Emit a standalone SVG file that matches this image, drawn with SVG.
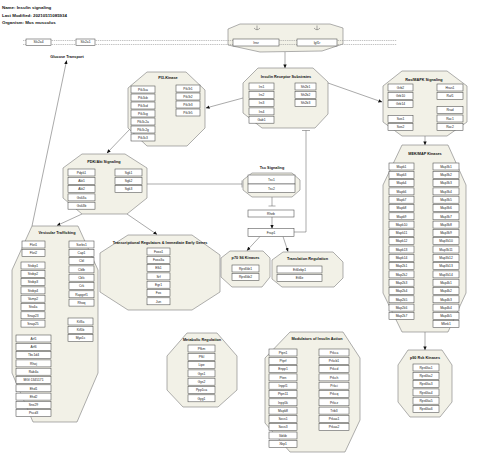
<svg xmlns="http://www.w3.org/2000/svg" width="480" height="465" viewBox="0 0 480 465">
<style>
.bg{fill:#fff}
.grp{fill:#f2f1e7;stroke:#7a7a7a;stroke-width:0.6}
.box{fill:#fff;stroke:#4a4a4a;stroke-width:0.55}
.t{font-family:"Liberation Sans",Arial,sans-serif;font-size:3.3px;text-anchor:middle;fill:#1a1a1a}
.h{font-family:"Liberation Sans",Arial,sans-serif;font-size:3.8px;font-weight:bold;text-anchor:middle;fill:#111}
.hd{font-family:"Liberation Sans",Arial,sans-serif;font-size:4.4px;font-weight:bold;fill:#111}
.e{stroke:#555;stroke-width:0.5;fill:none}
.mem{stroke:#9a9a9a;stroke-width:0.6;stroke-dasharray:1.4 0.8;fill:none}
</style>
<defs>
<marker id="arr" markerUnits="userSpaceOnUse" markerWidth="4" markerHeight="4" refX="3.6" refY="2" orient="auto"><path d="M0,0.3 L3.8,2 L0,3.7 z" fill="#111"/></marker>
</defs>
<rect class="bg" x="0" y="0" width="480" height="465"/>
<text class="hd" x="2" y="9">Name: Insulin signaling</text>
<text class="hd" x="2" y="16.5">Last Modified: 20210511085934</text>
<text class="hd" x="2" y="24">Organism: Mus musculus</text>

<g id="receptors">
<polygon class="grp" points="240,24 330,24 343,28 343,44 322,51 260,52 228,45 228,29"/>
</g>
<g id="membrane">
<line class="mem" x1="23" y1="40.5" x2="397" y2="40.5"/>
<line class="mem" x1="23" y1="44.5" x2="397" y2="44.5"/>
</g>
<g id="Slc2a4"><rect class="box" x="26" y="39" width="25" height="6.5"/><text class="t" x="38.5" y="43.4">Slc2a4</text></g>
<g id="Slc2a1"><rect class="box" x="76" y="39" width="19" height="6.5"/><text class="t" x="85.5" y="43.4">Slc2a1</text></g>
<g id="Insr"><rect class="box" x="233" y="39" width="46" height="7"/><text class="t" x="256" y="43.7">Insr</text>
<path class="e" d="M254,28 Q257,31.5 260,28 M257,25.5 V29.6"/></g>
<g id="Igf1r"><rect class="box" x="297" y="39" width="40" height="7"/><text class="t" x="317" y="43.7">Igf1r</text>
<path class="e" d="M314,28 Q317,31.5 320,28 M317,25.5 V29.6"/></g>
<g id="glucose-transport"><text class="h" x="67" y="57.5">Glucose Transport</text></g>

<g id="connectors">
<line class="e" x1="32" y1="226" x2="66.6" y2="60.5" marker-end="url(#arr)"/>
<line class="e" x1="285" y1="52" x2="285" y2="68" marker-end="url(#arr)"/>
<line class="e" x1="243" y1="98" x2="206" y2="108" marker-end="url(#arr)"/>
<line class="e" x1="328" y1="83" x2="382" y2="102" marker-end="url(#arr)"/>
<line class="e" x1="425" y1="136" x2="425" y2="145" marker-end="url(#arr)"/>
<line class="e" x1="425" y1="332" x2="425" y2="350" marker-end="url(#arr)"/>
<line class="e" x1="130" y1="129" x2="107" y2="153" marker-end="url(#arr)"/>
<line class="e" x1="82" y1="214" x2="57" y2="225.5" marker-end="url(#arr)"/>
<line class="e" x1="127" y1="214" x2="157" y2="234.5" marker-end="url(#arr)"/>
<line class="e" x1="147" y1="184" x2="242" y2="184"/>
<line class="e" x1="242" y1="180.5" x2="242" y2="187.5"/>
<line class="e" x1="272" y1="197" x2="272" y2="206"/>
<line class="e" x1="268.5" y1="206" x2="275.5" y2="206"/>
<line class="e" x1="272" y1="217" x2="272" y2="228.5" marker-end="url(#arr)"/>
<polyline class="e" points="294,232 306,232 306,130.5"/>
<line class="e" x1="302" y1="130.5" x2="310" y2="130.5"/>
<line class="e" x1="260" y1="236.5" x2="247" y2="250.5" marker-end="url(#arr)"/>
<line class="e" x1="283" y1="236.5" x2="288" y2="251.5" marker-end="url(#arr)"/>
</g>

<g id="pi3k">
<polygon class="grp" points="147,72 186,72 205,90 205,128 187,146 147,146 128,128 128,88"/>
<text class="h" x="168" y="79">PI3-Kinase</text>
<rect class="box" x="131" y="86" width="24" height="7"/><text class="t" x="143" y="90.7">Pik3ca</text>
<rect class="box" x="131" y="94" width="24" height="7"/><text class="t" x="143" y="98.7">Pik3cb</text>
<rect class="box" x="131" y="102" width="24" height="7"/><text class="t" x="143" y="106.7">Pik3cd</text>
<rect class="box" x="131" y="110" width="24" height="7"/><text class="t" x="143" y="114.7">Pik3cg</text>
<rect class="box" x="131" y="118" width="24" height="7"/><text class="t" x="143" y="122.7">Pik3c2a</text>
<rect class="box" x="131" y="126" width="24" height="7"/><text class="t" x="143" y="130.7">Pik3c2g</text>
<rect class="box" x="131" y="134" width="24" height="7"/><text class="t" x="143" y="138.7">Pik3c3</text>
<rect class="box" x="176" y="85" width="24" height="7"/><text class="t" x="188" y="89.7">Pik3r1</text>
<rect class="box" x="176" y="93" width="24" height="7"/><text class="t" x="188" y="97.7">Pik3r2</text>
<rect class="box" x="176" y="101" width="24" height="7"/><text class="t" x="188" y="105.7">Pik3r3</text>
<rect class="box" x="176" y="109" width="24" height="7"/><text class="t" x="188" y="113.7">Pik3r5</text>
</g>

<g id="irs">
<polygon class="grp" points="258,68 313,68 328,82 328,114 315,128 262,128 243,113 243,83"/>
<text class="h" x="286" y="78">Insulin Receptor Substrates</text>
<rect class="box" x="249" y="83" width="25" height="7"/><text class="t" x="261.5" y="87.7">Irs1</text>
<rect class="box" x="249" y="91.3" width="25" height="7"/><text class="t" x="261.5" y="96">Irs2</text>
<rect class="box" x="249" y="99.6" width="25" height="7"/><text class="t" x="261.5" y="104.3">Irs3</text>
<rect class="box" x="249" y="107.9" width="25" height="7"/><text class="t" x="261.5" y="112.6">Irs4</text>
<rect class="box" x="249" y="116.2" width="25" height="7"/><text class="t" x="261.5" y="120.9">Gab1</text>
<rect class="box" x="295" y="83" width="21" height="7"/><text class="t" x="305.5" y="87.7">Sh2b1</text>
<rect class="box" x="295" y="91.3" width="21" height="7"/><text class="t" x="305.5" y="96">Sh2b2</text>
<rect class="box" x="295" y="99.6" width="21" height="7"/><text class="t" x="305.5" y="104.3">Sh2b3</text>
</g>

<g id="ras">
<polygon class="grp" points="402,71 447,71 467,86 467,122 447,136 402,136 383,122 383,86"/>
<text class="h" x="424" y="81">Ras/MAPK Signaling</text>
<rect class="box" x="388" y="84" width="25" height="7"/><text class="t" x="400.5" y="88.7">Grb2</text>
<rect class="box" x="388" y="92.3" width="25" height="7"/><text class="t" x="400.5" y="97">Grb10</text>
<rect class="box" x="388" y="100.6" width="25" height="7"/><text class="t" x="400.5" y="105.3">Grb14</text>
<rect class="box" x="388" y="115.3" width="25" height="7"/><text class="t" x="400.5" y="120">Sos1</text>
<rect class="box" x="388" y="123.6" width="25" height="7"/><text class="t" x="400.5" y="128.3">Sos2</text>
<rect class="box" x="437" y="84" width="26" height="7"/><text class="t" x="450" y="88.7">Hras1</text>
<rect class="box" x="437" y="92.3" width="26" height="7"/><text class="t" x="450" y="97">Raf1</text>
<rect class="box" x="437" y="106.6" width="26" height="7"/><text class="t" x="450" y="111.3">Rrad</text>
<rect class="box" x="437" y="115" width="26" height="7"/><text class="t" x="450" y="119.7">Rac1</text>
<rect class="box" x="437" y="123.3" width="26" height="7"/><text class="t" x="450" y="128">Rac2</text>
</g>

<g id="mek">
<polygon class="grp" points="402,145 448,145 466,185 466,293 448,332 402,332 383,293 383,185"/>
<text class="h" x="425" y="154.5">MEK/MAP Kinases</text>
<rect class="box" x="389" y="163" width="25" height="7"/><text class="t" x="401.5" y="167.7">Mapk1</text>
<rect class="box" x="389" y="171.3" width="25" height="7"/><text class="t" x="401.5" y="176">Mapk3</text>
<rect class="box" x="389" y="179.6" width="25" height="7"/><text class="t" x="401.5" y="184.3">Mapk4</text>
<rect class="box" x="389" y="187.9" width="25" height="7"/><text class="t" x="401.5" y="192.6">Mapk6</text>
<rect class="box" x="389" y="196.2" width="25" height="7"/><text class="t" x="401.5" y="200.9">Mapk7</text>
<rect class="box" x="389" y="204.5" width="25" height="7"/><text class="t" x="401.5" y="209.2">Mapk8</text>
<rect class="box" x="389" y="212.8" width="25" height="7"/><text class="t" x="401.5" y="217.5">Mapk9</text>
<rect class="box" x="389" y="221.1" width="25" height="7"/><text class="t" x="401.5" y="225.8">Mapk10</text>
<rect class="box" x="389" y="229.4" width="25" height="7"/><text class="t" x="401.5" y="234.1">Mapk11</text>
<rect class="box" x="389" y="237.7" width="25" height="7"/><text class="t" x="401.5" y="242.4">Mapk12</text>
<rect class="box" x="389" y="246" width="25" height="7"/><text class="t" x="401.5" y="250.7">Mapk13</text>
<rect class="box" x="389" y="254.3" width="25" height="7"/><text class="t" x="401.5" y="259">Mapk14</text>
<rect class="box" x="389" y="262.6" width="25" height="7"/><text class="t" x="401.5" y="267.3">Map2k1</text>
<rect class="box" x="389" y="270.9" width="25" height="7"/><text class="t" x="401.5" y="275.6">Map2k2</text>
<rect class="box" x="389" y="279.2" width="25" height="7"/><text class="t" x="401.5" y="283.9">Map2k3</text>
<rect class="box" x="389" y="287.5" width="25" height="7"/><text class="t" x="401.5" y="292.2">Map2k4</text>
<rect class="box" x="389" y="295.8" width="25" height="7"/><text class="t" x="401.5" y="300.5">Map2k5</text>
<rect class="box" x="389" y="304.1" width="25" height="7"/><text class="t" x="401.5" y="308.8">Map2k6</text>
<rect class="box" x="389" y="312.4" width="25" height="7"/><text class="t" x="401.5" y="317.1">Map2k7</text>
<rect class="box" x="433" y="163" width="26" height="7"/><text class="t" x="446" y="167.7">Map3k1</text>
<rect class="box" x="433" y="171.3" width="26" height="7"/><text class="t" x="446" y="176">Map3k2</text>
<rect class="box" x="433" y="179.6" width="26" height="7"/><text class="t" x="446" y="184.3">Map3k3</text>
<rect class="box" x="433" y="187.9" width="26" height="7"/><text class="t" x="446" y="192.6">Map3k4</text>
<rect class="box" x="433" y="196.2" width="26" height="7"/><text class="t" x="446" y="200.9">Map3k5</text>
<rect class="box" x="433" y="204.5" width="26" height="7"/><text class="t" x="446" y="209.2">Map3k6</text>
<rect class="box" x="433" y="212.8" width="26" height="7"/><text class="t" x="446" y="217.5">Map3k7</text>
<rect class="box" x="433" y="221.1" width="26" height="7"/><text class="t" x="446" y="225.8">Map3k8</text>
<rect class="box" x="433" y="229.4" width="26" height="7"/><text class="t" x="446" y="234.1">Map3k9</text>
<rect class="box" x="433" y="237.7" width="26" height="7"/><text class="t" x="446" y="242.4">Map3k10</text>
<rect class="box" x="433" y="246" width="26" height="7"/><text class="t" x="446" y="250.7">Map3k11</text>
<rect class="box" x="433" y="254.3" width="26" height="7"/><text class="t" x="446" y="259">Map3k12</text>
<rect class="box" x="433" y="262.6" width="26" height="7"/><text class="t" x="446" y="267.3">Map3k13</text>
<rect class="box" x="433" y="270.9" width="26" height="7"/><text class="t" x="446" y="275.6">Map3k14</text>
<rect class="box" x="433" y="279.2" width="26" height="7"/><text class="t" x="446" y="283.9">Map4k1</text>
<rect class="box" x="433" y="287.5" width="26" height="7"/><text class="t" x="446" y="292.2">Map4k2</text>
<rect class="box" x="433" y="295.8" width="26" height="7"/><text class="t" x="446" y="300.5">Map4k3</text>
<rect class="box" x="433" y="304.1" width="26" height="7"/><text class="t" x="446" y="308.8">Map4k4</text>
<rect class="box" x="433" y="312.4" width="26" height="7"/><text class="t" x="446" y="317.1">Map4k5</text>
<rect class="box" x="433" y="320.7" width="26" height="7"/><text class="t" x="446" y="325.4">Mknk1</text>
</g>

<g id="p90">
<polygon class="grp" points="408,350 442,350 452,365 452,402 440,417 410,417 398,402 398,365"/>
<text class="h" x="425" y="358.5">p90 Rsk Kinases</text>
<rect class="box" x="413" y="364" width="26" height="7"/><text class="t" x="426" y="368.7">Rps6ka1</text>
<rect class="box" x="413" y="372.3" width="26" height="7"/><text class="t" x="426" y="377">Rps6ka2</text>
<rect class="box" x="413" y="380.6" width="26" height="7"/><text class="t" x="426" y="385.3">Rps6ka3</text>
<rect class="box" x="413" y="388.9" width="26" height="7"/><text class="t" x="426" y="393.6">Rps6ka4</text>
<rect class="box" x="413" y="397.2" width="26" height="7"/><text class="t" x="426" y="401.9">Rps6ka5</text>
<rect class="box" x="413" y="405.5" width="26" height="7"/><text class="t" x="426" y="410.2">Rps6ka6</text>
</g>

<g id="pdk">
<polygon class="grp" points="82,154 125,154 147,168 147,198 127,214 82,214 63,198 63,168"/>
<text class="h" x="104" y="163">PDK/Akt Signaling</text>
<rect class="box" x="68" y="169" width="27" height="7"/><text class="t" x="81.5" y="173.7">Pdpk1</text>
<rect class="box" x="68" y="177.3" width="27" height="7"/><text class="t" x="81.5" y="182">Akt1</text>
<rect class="box" x="68" y="185.6" width="27" height="7"/><text class="t" x="81.5" y="190.3">Akt2</text>
<rect class="box" x="68" y="193.9" width="27" height="7"/><text class="t" x="81.5" y="198.6">Gsk3a</text>
<rect class="box" x="68" y="202.2" width="27" height="7"/><text class="t" x="81.5" y="206.9">Gsk3b</text>
<rect class="box" x="115" y="169" width="27" height="7"/><text class="t" x="128.5" y="173.7">Sgk1</text>
<rect class="box" x="115" y="177.3" width="27" height="7"/><text class="t" x="128.5" y="182">Sgk2</text>
<rect class="box" x="115" y="185.6" width="27" height="7"/><text class="t" x="128.5" y="190.3">Sgk3</text>
</g>

<g id="tsc">
<text class="h" x="272" y="168.5">Tsc Signaling</text>
<polygon class="grp" points="252,173 292,173 300,180 300,190 292,197 252,197 243,190 243,180"/>
<rect class="box" x="248" y="175" width="47" height="9"/><text class="t" x="271.5" y="180.7">Tsc1</text>
<rect class="box" x="248" y="184" width="47" height="8.5"/><text class="t" x="271.5" y="189.5">Tsc2</text>
</g>
<g id="Rheb"><rect class="box" x="248" y="210" width="46" height="7"/><text class="t" x="271" y="214.7">Rheb</text></g>
<g id="Frap1"><rect class="box" x="248" y="228.5" width="46" height="8"/><text class="t" x="271" y="233.7">Frap1</text></g>

<g id="p70">
<polygon class="grp" points="230,251 263,251 270,258 270,277 262,287 232,287 221,277 221,258"/>
<text class="h" x="245.5" y="259">p70 S6 Kinases</text>
<rect class="box" x="232" y="265" width="27" height="7"/><text class="t" x="245.5" y="269.7">Rps6kb1</text>
<rect class="box" x="232" y="273.3" width="27" height="7"/><text class="t" x="245.5" y="278">Rps6kb2</text>
</g>

<g id="translation">
<polygon class="grp" points="283,252 333,252 343,262 343,278 334,287 282,287 272,279 272,260"/>
<text class="h" x="307.5" y="260">Translation Regulation</text>
<rect class="box" x="277" y="266" width="45" height="7"/><text class="t" x="299.5" y="270.7">Eif4ebp1</text>
<rect class="box" x="277" y="274.3" width="45" height="7"/><text class="t" x="299.5" y="279">Eif4e</text>
</g>

<g id="transcription">
<polygon class="grp" points="128,235 192,235 220,255 220,292 192,310 128,310 100,292 100,253"/>
<text class="h" x="160" y="243.5">Transcriptional Regulators &amp; Immediate Early Genes</text>
<rect class="box" x="147" y="248" width="23" height="7"/><text class="t" x="158.5" y="252.7">Foxo1</text>
<rect class="box" x="147" y="256.3" width="23" height="7"/><text class="t" x="158.5" y="261">Foxo3a</text>
<rect class="box" x="147" y="264.6" width="23" height="7"/><text class="t" x="158.5" y="269.3">Elk1</text>
<rect class="box" x="147" y="272.9" width="23" height="7"/><text class="t" x="158.5" y="277.6">Srf</text>
<rect class="box" x="147" y="281.2" width="23" height="7"/><text class="t" x="158.5" y="285.9">Egr1</text>
<rect class="box" x="147" y="289.5" width="23" height="7"/><text class="t" x="158.5" y="294.2">Fos</text>
<rect class="box" x="147" y="297.8" width="23" height="7"/><text class="t" x="158.5" y="302.5">Jun</text>
</g>

<g id="vesicular">
<polygon class="grp" points="32,226 78,226 98,270 98,373 77,422 33,422 12,373 12,270"/>
<text class="h" x="57" y="234">Vesicular Trafficking</text>
<rect class="box" x="22" y="241" width="23" height="7"/><text class="t" x="33.5" y="245.7">Flot1</text>
<rect class="box" x="22" y="249.3" width="23" height="7"/><text class="t" x="33.5" y="254">Flot2</text>
<rect class="box" x="21" y="262" width="24" height="7"/><text class="t" x="33" y="266.7">Stxbp1</text>
<rect class="box" x="21" y="270.3" width="24" height="7"/><text class="t" x="33" y="275">Stxbp2</text>
<rect class="box" x="21" y="278.6" width="24" height="7"/><text class="t" x="33" y="283.3">Stxbp3</text>
<rect class="box" x="21" y="286.9" width="24" height="7"/><text class="t" x="33" y="291.6">Stxbp4</text>
<rect class="box" x="21" y="295.2" width="24" height="7"/><text class="t" x="33" y="299.9">Vamp2</text>
<rect class="box" x="21" y="303.5" width="24" height="7"/><text class="t" x="33" y="308.2">Stx4a</text>
<rect class="box" x="21" y="311.8" width="24" height="7"/><text class="t" x="33" y="316.5">Snap23</text>
<rect class="box" x="21" y="320.1" width="24" height="7"/><text class="t" x="33" y="324.8">Snap25</text>
<rect class="box" x="69" y="241" width="25" height="7"/><text class="t" x="81.5" y="245.7">Sorbs1</text>
<rect class="box" x="69" y="249.3" width="25" height="7"/><text class="t" x="81.5" y="254">Cap1</text>
<rect class="box" x="69" y="257.6" width="25" height="7"/><text class="t" x="81.5" y="262.3">Cbl</text>
<rect class="box" x="69" y="265.9" width="25" height="7"/><text class="t" x="81.5" y="270.6">Cblb</text>
<rect class="box" x="69" y="274.2" width="25" height="7"/><text class="t" x="81.5" y="278.9">Cblc</text>
<rect class="box" x="69" y="282.5" width="25" height="7"/><text class="t" x="81.5" y="287.2">Crk</text>
<rect class="box" x="69" y="290.8" width="25" height="7"/><text class="t" x="81.5" y="295.5">Rapgef1</text>
<rect class="box" x="69" y="299.1" width="25" height="7"/><text class="t" x="81.5" y="303.8">Rhoq</text>
<rect class="box" x="68" y="318" width="25" height="7"/><text class="t" x="80.5" y="322.7">Kif3a</text>
<rect class="box" x="68" y="326.3" width="25" height="7"/><text class="t" x="80.5" y="331">Kif5b</text>
<rect class="box" x="68" y="334.6" width="25" height="7"/><text class="t" x="80.5" y="339.3">Myo1c</text>
<rect class="box" x="16" y="335" width="35" height="7"/><text class="t" x="33.5" y="339.7">Arf1</text>
<rect class="box" x="16" y="343.3" width="35" height="7"/><text class="t" x="33.5" y="348">Arf6</text>
<rect class="box" x="16" y="351.6" width="35" height="7"/><text class="t" x="33.5" y="356.3">Tbc1d4</text>
<rect class="box" x="16" y="359.9" width="35" height="7"/><text class="t" x="33.5" y="364.6">Rhoj</text>
<rect class="box" x="16" y="368.2" width="35" height="7"/><text class="t" x="33.5" y="372.9">Rab4a</text>
<rect class="box" x="16" y="376.5" width="35" height="7"/><text class="t" x="33.5" y="381.2">MGI:1345171</text>
<rect class="box" x="16" y="384.8" width="35" height="7"/><text class="t" x="33.5" y="389.5">Ehd1</text>
<rect class="box" x="16" y="393.1" width="35" height="7"/><text class="t" x="33.5" y="397.8">Ehd2</text>
<rect class="box" x="16" y="401.4" width="35" height="7"/><text class="t" x="33.5" y="406.1">Snx29</text>
<rect class="box" x="16" y="409.7" width="35" height="7"/><text class="t" x="33.5" y="414.4">Pscd3</text>
</g>

<g id="metabolic">
<polygon class="grp" points="187,333 217,333 237,356 237,390 218,407 183,407 167,390 167,356"/>
<text class="h" x="202" y="341">Metabolic Regulation</text>
<rect class="box" x="188" y="345" width="27" height="7"/><text class="t" x="201.5" y="349.7">Pfkm</text>
<rect class="box" x="188" y="353.3" width="27" height="7"/><text class="t" x="201.5" y="358">Pfkl</text>
<rect class="box" x="188" y="361.6" width="27" height="7"/><text class="t" x="201.5" y="366.3">Lipe</text>
<rect class="box" x="188" y="369.9" width="27" height="7"/><text class="t" x="201.5" y="374.6">Gys1</text>
<rect class="box" x="188" y="378.2" width="27" height="7"/><text class="t" x="201.5" y="382.9">Gys2</text>
<rect class="box" x="188" y="386.5" width="27" height="7"/><text class="t" x="201.5" y="391.2">Ppp1ca</text>
<rect class="box" x="188" y="394.8" width="27" height="7"/><text class="t" x="201.5" y="399.5">Gyg1</text>
</g>

<g id="modulators">
<polygon class="grp" points="290,332 343,332 360,358 360,420 345,452 290,452 265,423 265,358"/>
<text class="h" x="317" y="339.5">Modulators of Insulin Action</text>
<rect class="box" x="269" y="349" width="28" height="7"/><text class="t" x="283" y="353.7">Ptpn1</text>
<rect class="box" x="269" y="357.3" width="28" height="7"/><text class="t" x="283" y="362">Ptprf</text>
<rect class="box" x="269" y="365.6" width="28" height="7"/><text class="t" x="283" y="370.3">Enpp1</text>
<rect class="box" x="269" y="373.9" width="28" height="7"/><text class="t" x="283" y="378.6">Pten</text>
<rect class="box" x="269" y="382.2" width="28" height="7"/><text class="t" x="283" y="386.9">Inppl1</text>
<rect class="box" x="269" y="390.5" width="28" height="7"/><text class="t" x="283" y="395.2">Ptpn11</text>
<rect class="box" x="269" y="398.8" width="28" height="7"/><text class="t" x="283" y="403.5">Inpp5k</text>
<rect class="box" x="269" y="407.1" width="28" height="7"/><text class="t" x="283" y="411.8">Mapk8</text>
<rect class="box" x="269" y="415.4" width="28" height="7"/><text class="t" x="283" y="420.1">Socs1</text>
<rect class="box" x="269" y="423.7" width="28" height="7"/><text class="t" x="283" y="428.4">Socs3</text>
<rect class="box" x="269" y="432" width="28" height="7"/><text class="t" x="283" y="436.7">Ikbkb</text>
<rect class="box" x="269" y="440.3" width="28" height="7"/><text class="t" x="283" y="445">Xbp1</text>
<rect class="box" x="319" y="349" width="30" height="7"/><text class="t" x="334" y="353.7">Prkca</text>
<rect class="box" x="319" y="357.3" width="30" height="7"/><text class="t" x="334" y="362">Prkcb1</text>
<rect class="box" x="319" y="365.6" width="30" height="7"/><text class="t" x="334" y="370.3">Prkcd</text>
<rect class="box" x="319" y="373.9" width="30" height="7"/><text class="t" x="334" y="378.6">Prkch</text>
<rect class="box" x="319" y="382.2" width="30" height="7"/><text class="t" x="334" y="386.9">Prkci</text>
<rect class="box" x="319" y="390.5" width="30" height="7"/><text class="t" x="334" y="395.2">Prkcq</text>
<rect class="box" x="319" y="398.8" width="30" height="7"/><text class="t" x="334" y="403.5">Prkcz</text>
<rect class="box" x="319" y="407.1" width="30" height="7"/><text class="t" x="334" y="411.8">Trib3</text>
<rect class="box" x="319" y="415.4" width="30" height="7"/><text class="t" x="334" y="420.1">Prkaa1</text>
<rect class="box" x="319" y="423.7" width="30" height="7"/><text class="t" x="334" y="428.4">Prkaa2</text>
</g>
</svg>
